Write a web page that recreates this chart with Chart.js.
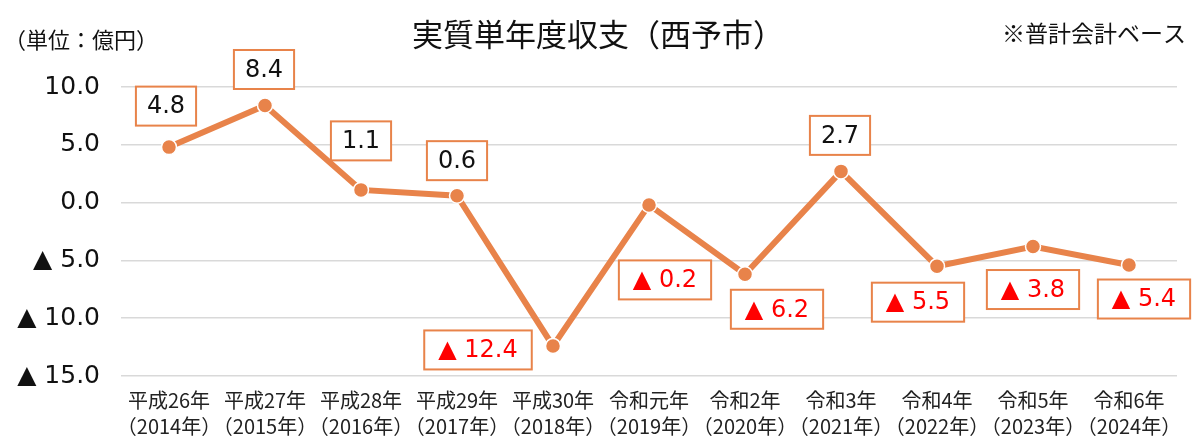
<!DOCTYPE html>
<html>
<head>
<meta charset="utf-8">
<script src="https://cdn.jsdelivr.net/npm/chart.js@4/dist/chart.umd.min.js"></script>
<style>
html,body{margin:0;padding:0;background:#fff;}
#wrap{width:1200px;height:443px;position:relative;}
</style>
</head>
<body>
<div id="wrap"><canvas id="c" width="1200" height="443"></canvas></div>
<script>
const categories = [
  ["平成26年","（2014年）"],["平成27年","（2015年）"],["平成28年","（2016年）"],["平成29年","（2017年）"],
  ["平成30年","（2018年）"],["令和元年","（2019年）"],["令和2年","（2020年）"],["令和3年","（2021年）"],
  ["令和4年","（2022年）"],["令和5年","（2023年）"],["令和6年","（2024年）"]
];
const values = [4.8, 8.4, 1.1, 0.6, -12.4, -0.2, -6.2, 2.7, -5.5, -3.8, -5.4];
const yTicks = [10, 5, 0, -5, -10, -15];
const titleText = "実質単年度収支（西予市）";
const unitText = "（単位：億円）";
const noteText = "※普計会計ベース";
// label box offsets relative to each point (layout only)
const labelOffsets = [[-3,-41],[-1,-36],[0,-49],[0,-35],[-75,4],[16,75],[32,35],[-1,-36],[-19,36],[0,43],[15,34]];

const FONT = '"Noto Sans CJK JP", "Noto Sans", sans-serif';
const NUMFONT = '"DejaVu Sans", "Noto Sans CJK JP", sans-serif';
const ORANGE = '#E8834A';
const fmt = v => v < 0 ? '▲ ' + Math.abs(v).toFixed(1) : v.toFixed(1);

const labelPlugin = {
  id: 'boxLabels',
  afterDatasetsDraw(chart) {
    const ctx = chart.ctx;
    const meta = chart.getDatasetMeta(0);
    ctx.save();
    ctx.font = '24px ' + NUMFONT;
    ctx.textAlign = 'center';
    ctx.textBaseline = 'middle';
    meta.data.forEach((pt, i) => {
      const v = values[i];
      const txt = fmt(v);
      const off = labelOffsets[i];
      const cx = pt.x + off[0], cy = pt.y + off[1];
      const tw = ctx.measureText(txt).width;
      const w = tw + (v < 0 ? 28 : 22), h = 39;
      ctx.fillStyle = '#fff';
      ctx.fillRect(cx - w/2, cy - h/2, w, h);
      ctx.strokeStyle = ORANGE;
      ctx.lineWidth = 2;
      ctx.strokeRect(cx - w/2, cy - h/2, w, h);
      ctx.fillStyle = v < 0 ? '#FF0000' : '#111';
      ctx.fillText(txt, cx, cy + 1);
    });
    ctx.restore();
  }
};

const textPlugin = {
  id: 'texts',
  afterDraw(chart) {
    const ctx = chart.ctx;
    ctx.save();
    ctx.fillStyle = '#111';
    ctx.textBaseline = 'middle';
    ctx.font = '31px ' + FONT;
    ctx.textAlign = 'center';
    ctx.fillText(titleText, 598, 34);
    ctx.font = '22px ' + FONT;
    ctx.textAlign = 'left';
    ctx.fillText(unitText, 4, 40);
    ctx.font = '23px ' + FONT;
    ctx.textAlign = 'right';
    ctx.fillText(noteText, 1186, 33);
    ctx.restore();
  }
};

new Chart(document.getElementById('c'), {
  type: 'line',
  data: {
    labels: categories,
    datasets: [{
      data: values,
      borderColor: ORANGE,
      backgroundColor: ORANGE,
      borderWidth: 6,
      pointRadius: 7.5,
      pointBackgroundColor: ORANGE,
      pointBorderColor: '#fff',
      pointBorderWidth: 1.5,
      tension: 0
    }]
  },
  options: {
    responsive: false,
    animation: false,
    devicePixelRatio: 1,
    layout: { padding: { top: 87, right: 23, left: 0, bottom: 0 } },
    plugins: { legend: { display: false }, tooltip: { enabled: false } },
    scales: {
      x: {
        offset: true,
        grid: { display: false, drawTicks: false },
        border: { display: false },
        ticks: { color: '#222', font: { family: FONT, size: 20, lineHeight: 1.3 }, padding: 11, maxRotation: 0, autoSkip: false },
        afterFit(s) { s.height = 67; }
      },
      y: {
        min: -15, max: 10,
        afterBuildTicks(s) { s.ticks = yTicks.map(v => ({ value: v })); },
        grid: { color: '#D9D9D9', lineWidth: 1.5, drawTicks: false },
        border: { display: false },
        ticks: { color: '#111', font: { family: NUMFONT, size: 25 }, padding: 21, callback: v => fmt(v) },
        afterFit(s) { s.width = 121; }
      }
    }
  },
  plugins: [labelPlugin, textPlugin]
});
</script>
</body>
</html>
